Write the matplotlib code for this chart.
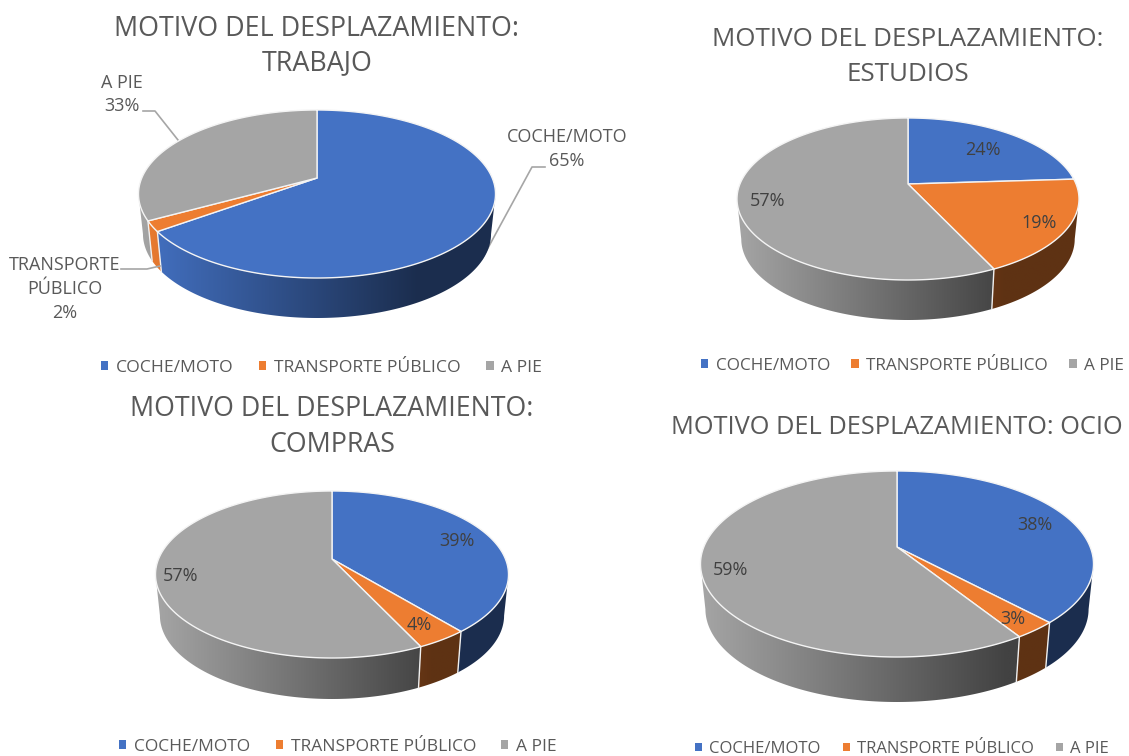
import numpy as np
import matplotlib
matplotlib.use("Agg")
import matplotlib.pyplot as plt
from matplotlib.patches import Patch, Polygon

plt.rcParams['font.family'] = ['Open Sans', 'DejaVu Sans']

categories = ["COCHE/MOTO", "TRANSPORTE PÚBLICO", "A PIE"]
trabajo = [65, 2, 33]
estudios = [24, 19, 57]
compras = [39, 4, 57]
ocio = [38, 3, 59]

colors = ["#4472C4", "#ED7D31", "#A5A5A5"]
TEXT = "#595959"
LABEL = "#404040"
SHRINK = 0.975  # bottom rim of the pie is a bit narrower


def project(theta, geo):
    # tilted circle -> ellipse, apex stays off the ellipse centre like a 3d pie
    cx, cy, top, bottom, left, right = geo[:6]
    U, D = cy - top, bottom - cy
    k = (D - U) / (D + U)
    a = 2 * U * D / (U + D)
    b = (right - left) / 2 * np.sqrt(1 - k ** 2)
    den = 1 + k * np.cos(theta)
    return cx + b * np.sin(theta) / den, cy - a * np.cos(theta) / den


def pie3d(ax, values, geo):
    cx, cy, top, bottom, left, right, depth = geo
    edges = np.cumsum([0] + list(values)) / sum(values) * 2 * np.pi
    mid_y = (top + bottom) / 2
    ramp = np.clip(1.0 - 0.6 * np.linspace(0, 1, 256) / 0.78, 0.4, 1.0)
    for i, col in enumerate(colors):
        n = max(int(np.degrees(edges[i + 1] - edges[i]) * 4), 8)
        th = np.linspace(edges[i], edges[i + 1], n)
        x, y = project(th, geo)
        base = np.array(matplotlib.colors.to_rgb(col))
        front = y >= mid_y
        if front.sum() >= 2:
            xf, yf = x[front], y[front]
            xb = cx + (xf - cx) * SHRINK
            yb = yf + depth
            wall = Polygon(list(zip(xf, yf)) + list(zip(xb[::-1], yb[::-1])), closed=True,
                           transform=ax.transData, facecolor="none", edgecolor="none")
            ax.add_patch(wall)
            grad = (ramp[None, :, None] * base[None, None, :])
            im = ax.imshow(grad, extent=(left, right, bottom + depth + 2, top), aspect="auto",
                           interpolation="bilinear", zorder=1)
            im.set_clip_path(wall)
        # top face
        ax.add_patch(Polygon([(cx, cy)] + list(zip(x, y)), closed=True, facecolor=col,
                             edgecolor="#f4f4f4", linewidth=1.0, joinstyle="round", zorder=3))
    # white seams on the wall between slices
    xe, ye = project(edges[:-1], geo)
    for xx, yy in zip(xe, ye):
        if yy > mid_y:
            ax.plot([xx, cx + (xx - cx) * SHRINK], [yy, yy + depth], color="#f0f0f0", lw=1.0, zorder=2)


def legend(ax, x, y, spacing, size):
    handles = [Patch(facecolor=c, edgecolor="none") for c in colors]
    leg = ax.legend(handles, categories, loc="center", bbox_to_anchor=(x, y),
                    bbox_transform=ax.transData, ncol=3, frameon=False, fontsize=size,
                    labelcolor=TEXT, handlelength=0.42, handleheight=0.42,
                    handletextpad=0.45, columnspacing=spacing, borderpad=0, borderaxespad=0)
    ax.add_artist(leg)
    ax.legend_ = None


fig = plt.figure(figsize=(11.29, 7.56), dpi=100)
ax = fig.add_axes([0, 0, 1, 1])
ax.set_xlim(0, 1129)
ax.set_ylim(756, 0)
ax.axis("off")

# cx, cy, top, bottom, left, right, depth (pixels)
pie3d(ax, trabajo, (317, 178, 110, 278, 139, 496, 40))
pie3d(ax, estudios, (908, 184, 118, 280, 737, 1079, 40))
pie3d(ax, compras, (332, 559, 491, 658, 156, 509, 41))
pie3d(ax, ocio, (897, 547, 471, 657, 701, 1094, 45))
ax.set_xlim(0, 1129)
ax.set_ylim(756, 0)

ax.text(317, 46, "MOTIVO DEL DESPLAZAMIENTO:\nTRABAJO", ha="center", va="center",
        fontsize=19.4, color=TEXT, linespacing=1.33)
ax.text(908, 57, "MOTIVO DEL DESPLAZAMIENTO:\nESTUDIOS", ha="center", va="center",
        fontsize=18.75, color=TEXT, linespacing=1.55)
ax.text(332, 427, "MOTIVO DEL DESPLAZAMIENTO:\nCOMPRAS", ha="center", va="center",
        fontsize=19.3, color=TEXT, linespacing=1.38)
ax.text(897, 427, "MOTIVO DEL DESPLAZAMIENTO: OCIO", ha="center", va="center",
        fontsize=18.3, color=TEXT)

# trabajo has outside labels with leaders
ax.text(567, 149, "COCHE/MOTO\n65%", ha="center", va="center", fontsize=13, color=TEXT, linespacing=1.42)
ax.text(122, 94.5, "A PIE\n33%", ha="center", va="center", fontsize=13, color=TEXT, linespacing=1.42)
ax.text(65, 289, "TRANSPORTE\nPÚBLICO\n2%", ha="center", va="center", fontsize=13, color=TEXT, linespacing=1.42)
ax.plot([545, 532, 482], [167, 167, 259], color="#A6A6A6", lw=1.2, zorder=0)
ax.plot([143, 155, 178], [111, 111, 140], color="#A6A6A6", lw=1.2, zorder=0)
ax.plot([121, 147, 160], [269, 269, 266], color="#A6A6A6", lw=1.2, zorder=4)

for x, y, v in [(983, 150, estudios[0]), (1039, 223, estudios[1]), (768, 201, estudios[2]),
                (457, 541, compras[0]), (419, 625, compras[1]), (181, 576, compras[2]),
                (1035, 525, ocio[0]), (1013, 619, ocio[1]), (731, 570, ocio[2])]:
    ax.text(x, y, f"{v}%", ha="center", va="center", fontsize=13, color=LABEL, zorder=5)

legend(ax, 321.5, 368, 1.45, 12.6)
legend(ax, 912.5, 366, 1.25, 12.3)
legend(ax, 338, 747, 1.45, 12.5)
legend(ax, 902, 749, 1.32, 12.0)

fig.savefig("out.png", dpi=100)
